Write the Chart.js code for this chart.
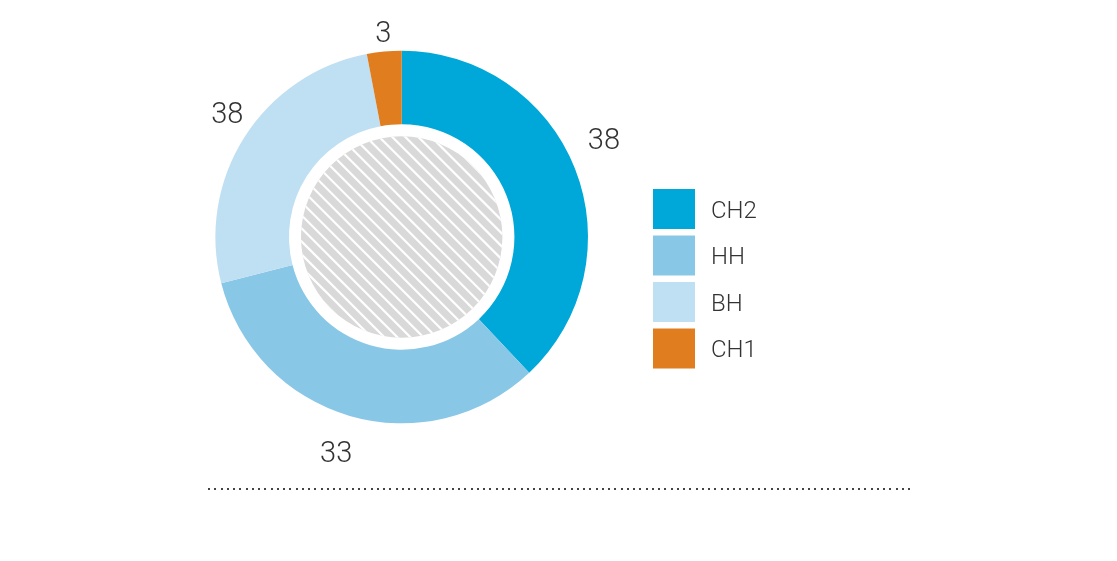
<!DOCTYPE html>
<html><head><meta charset="utf-8">
<script src="https://cdn.jsdelivr.net/npm/chart.js@4.4.1/dist/chart.umd.min.js"></script>
<style>html,body{margin:0;padding:0;background:#fff;overflow:hidden}canvas{display:block}</style>
</head><body>
<canvas id="c" width="1117" height="561"></canvas>
<script>
// ---- data ----
const categories = ['CH2', 'HH', 'BH', 'CH1'];
const values = [38, 33, 26, 3];          // slice sizes as drawn
const valueLabels = ['38', '33', '38', '3']; // labels as printed on the chart
const colors = ['#00a7d9', '#89c7e7', '#bfdff3', '#df7d1f'];

const FONT = 'Roboto, "Open Sans", "DejaVu Sans", sans-serif';

const decorPlugin = {
  id: 'decor',
  afterDatasetsDraw(chart, args, opts) {
    const ctx = chart.ctx;
    const meta = chart.getDatasetMeta(0);
    const a0 = meta.data[0];
    const cx = a0.x, cy = a0.y, R = a0.outerRadius, r = a0.innerRadius;

    // hatched centre disc
    const hr = r - opts.hatchGap;
    ctx.save();
    ctx.beginPath();
    ctx.arc(cx, cy, hr, 0, Math.PI * 2);
    ctx.fillStyle = '#d9d9d9';
    ctx.fill();
    ctx.clip();
    ctx.strokeStyle = '#ffffff';
    ctx.lineWidth = 2.2;
    const s = Math.SQRT1_2;
    for (let d = -hr - 10; d <= hr + 10; d += 9.2) {
      const px = cx + d * s, py = cy - d * s;
      ctx.beginPath();
      ctx.moveTo(px - hr * 1.5 * s, py - hr * 1.5 * s);
      ctx.lineTo(px + hr * 1.5 * s, py + hr * 1.5 * s);
      ctx.stroke();
    }
    ctx.restore();

    // value labels
    ctx.save();
    ctx.fillStyle = '#333';
    ctx.font = '300 29px ' + FONT;
    ctx.textAlign = 'center';
    ctx.textBaseline = 'alphabetic';
    meta.data.forEach((arc, i) => {
      const mid = (arc.startAngle + arc.endAngle) / 2 + opts.angleShift[i] * Math.PI / 180;
      const rad = opts.labelRadius[i];
      const x = cx + Math.cos(mid) * rad;
      const y = cy + Math.sin(mid) * rad;
      ctx.fillText(valueLabels[i], x, y + 10.5);
    });
    ctx.restore();

    // legend
    ctx.save();
    ctx.font = '300 24px ' + FONT;
    ctx.textAlign = 'left';
    ctx.textBaseline = 'alphabetic';
    categories.forEach((c, i) => {
      const top = opts.legendTop + i * opts.legendStep;
      ctx.fillStyle = colors[i];
      ctx.fillRect(opts.legendX, top, 42, 40);
      ctx.fillStyle = '#333';
      ctx.fillText(c, opts.legendX + 58, top + 20 + 8.5);
    });
    ctx.restore();

    // dotted rule
    ctx.save();
    ctx.fillStyle = '#444';
    for (let x = 208; x <= 910; x += 6.25) {
      ctx.fillRect(Math.round(x), 488, 2, 2);
    }
    ctx.restore();
  }
};

new Chart(document.getElementById('c'), {
  type: 'doughnut',
  data: {
    labels: categories,
    datasets: [{
      data: values,
      backgroundColor: colors,
      borderWidth: 0,
      hoverOffset: 0,
      offset: 0
    }]
  },
  options: {
    responsive: false,
    animation: false,
    events: [],
    cutout: '60.5%',
    layout: { padding: { left: 215.4, top: 50.7, right: 529, bottom: 137.7 } },
    plugins: {
      legend: { display: false },
      tooltip: { enabled: false },
      decor: {
        hatchGap: 12,
        angleShift: [-4.4, 0.8, 3.05, 0.3],
        labelRadius: [225, 224, 214, 206],
        legendX: 653,
        legendTop: 189,
        legendStep: 46.5
      }
    }
  },
  plugins: [decorPlugin]
});
</script>
</body></html>
